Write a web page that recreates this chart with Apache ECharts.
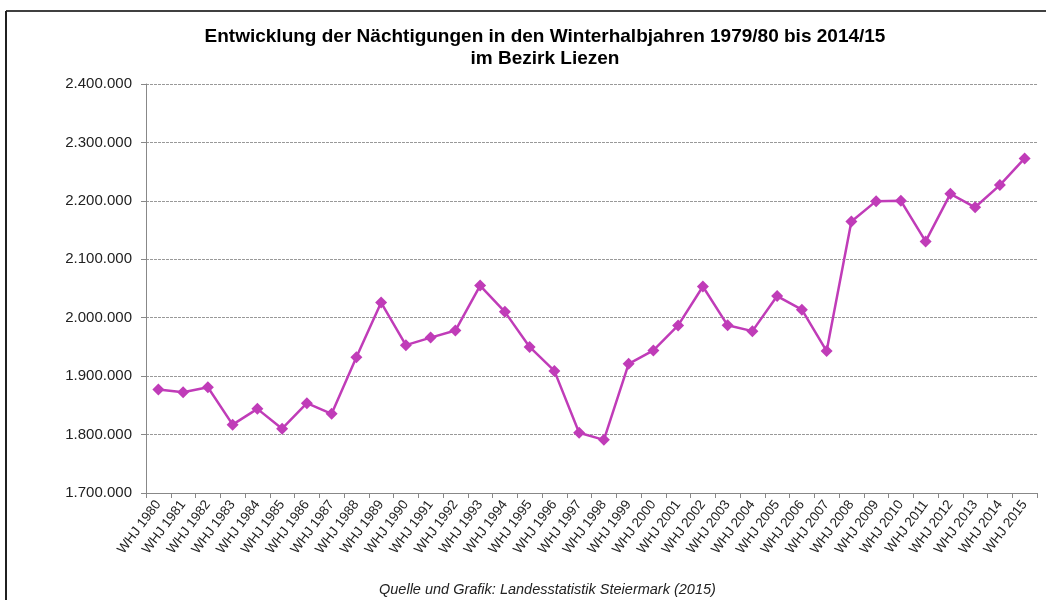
<!DOCTYPE html>
<html>
<head>
<meta charset="utf-8">
<script src="https://cdn.jsdelivr.net/npm/echarts@6/dist/echarts.min.js"></script>
<style>
  html, body { margin: 0; padding: 0; background: #fff; }
  #chart { width: 1046px; height: 600px; }
</style>
</head>
<body>
<div id="chart"></div>
<script>
// Kategorien (Winterhalbjahre)
const years = [
  "WHJ 1980", "WHJ 1981", "WHJ 1982", "WHJ 1983", "WHJ 1984", "WHJ 1985",
  "WHJ 1986", "WHJ 1987", "WHJ 1988", "WHJ 1989", "WHJ 1990", "WHJ 1991",
  "WHJ 1992", "WHJ 1993", "WHJ 1994", "WHJ 1995", "WHJ 1996", "WHJ 1997",
  "WHJ 1998", "WHJ 1999", "WHJ 2000", "WHJ 2001", "WHJ 2002", "WHJ 2003",
  "WHJ 2004", "WHJ 2005", "WHJ 2006", "WHJ 2007", "WHJ 2008", "WHJ 2009",
  "WHJ 2010", "WHJ 2011", "WHJ 2012", "WHJ 2013", "WHJ 2014", "WHJ 2015"
];
// Nächtigungen
const naechtigungen = [
  1877000, 1872600, 1881000, 1817000, 1844000, 1810000,
  1853800, 1835500, 1932500, 2026000, 1953000, 1966000,
  1978000, 2055000, 2010000, 1950000, 1909000, 1803000,
  1791000, 1921000, 1944000, 1986800, 2053500, 1987000,
  1977000, 2037000, 2013700, 1943000, 2164700, 2199500,
  2200000, 2130600, 2212000, 2189000, 2227000, 2272600
];
const yMin = 1700000;
const yMax = 2400000;
const yStep = 100000;

const fmt = (v) => String(v).replace(/\B(?=(\d{3})+(?!\d))/g, ".");

const chart = echarts.init(document.getElementById("chart"));
chart.setOption({
  backgroundColor: "#fff",
  animation: false,
  title: {
    text: "Entwicklung der Nächtigungen in den Winterhalbjahren 1979/80 bis 2014/15\nim Bezirk Liezen",
    left: 540,
    textAlign: "center",
    top: 21,
    textStyle: {
      fontFamily: "Liberation Sans, Arial",
      fontSize: 19,
      fontWeight: "bold",
      color: "#000",
      lineHeight: 22,
    },
  },
  graphic: [
    {
      type: "line",
      shape: { x1: 6, y1: 11, x2: 1046, y2: 11 },
      style: { stroke: "#404040", lineWidth: 2 },
    },
    {
      type: "line",
      shape: { x1: 6, y1: 11, x2: 6, y2: 600 },
      style: { stroke: "#202020", lineWidth: 2 },
    },
    {
      type: "text",
      left: 379,
      top: 582,
      style: {
        text: "Quelle und Grafik: Landesstatistik Steiermark (2015)",
        font: "italic 14.5px 'Liberation Sans', Arial",
        fill: "#222",
      },
    },
  ],
  grid: {
    left: 146,
    right: 9,
    top: 84,
    bottom: 107,
    containLabel: false,
  },
  xAxis: {
    type: "category",
    data: years,
    boundaryGap: true,
    axisLine: { lineStyle: { color: "#888", width: 1 } },
    axisTick: { show: true, alignWithLabel: false, length: 5, lineStyle: { color: "#888" } },
    axisLabel: {
      interval: 0,
      rotate: 53,
      margin: 9,
      fontFamily: "Liberation Sans, Arial",
      fontSize: 13.5,
      color: "#222",
    },
  },
  yAxis: {
    type: "value",
    min: yMin,
    max: yMax,
    interval: yStep,
    axisLine: { show: true, lineStyle: { color: "#888", width: 1 } },
    axisTick: { show: true, length: 5, lineStyle: { color: "#888" } },
    axisLabel: {
      formatter: fmt,
      margin: 14,
      fontFamily: "Liberation Sans, Arial",
      fontSize: 15,
      color: "#222",
    },
    splitLine: {
      show: true,
      lineStyle: { color: "#999", type: [3, 1], width: 1 },
    },
  },
  series: [
    {
      type: "line",
      data: naechtigungen,
      symbol: "diamond",
      symbolSize: 12,
      lineStyle: { color: "#c03cb8", width: 2.5 },
      itemStyle: { color: "#c03cb8" },
    },
  ],
});
</script>
</body>
</html>
